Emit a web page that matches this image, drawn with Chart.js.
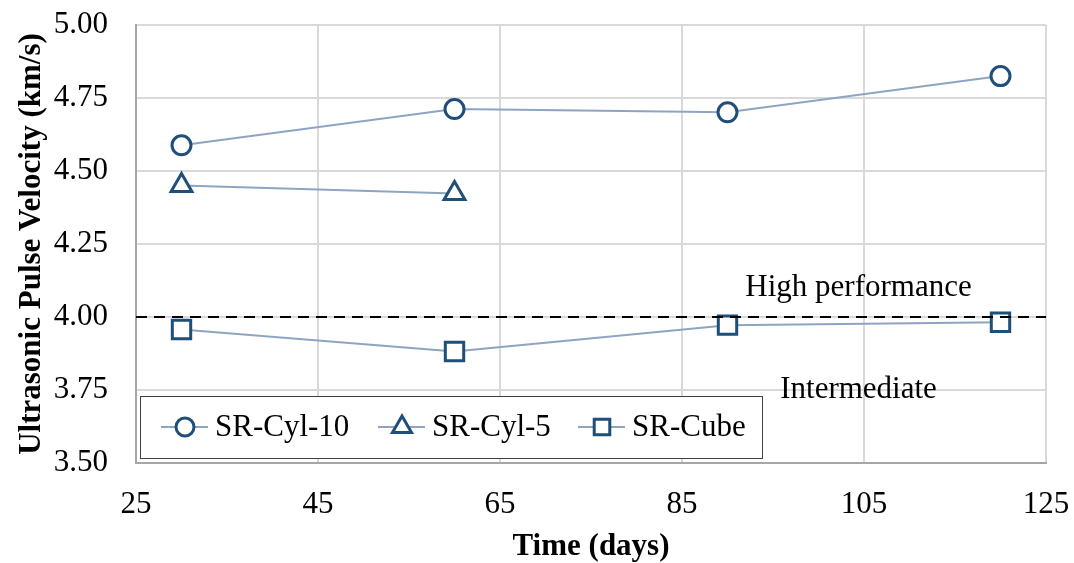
<!DOCTYPE html>
<html>
<head>
<meta charset="utf-8">
<script src="https://cdn.jsdelivr.net/npm/chart.js@4"></script>
<style>
  html, body { margin: 0; padding: 0; background: #fff; }
  #wrap { width: 1074px; height: 563px; }
</style>
</head>
<body>
<div id="wrap"><canvas id="chart" width="1074" height="563"></canvas></div>
<script>
// data
var days = [30, 60, 90, 120];
var cyl10 = [4.588, 4.712, 4.701, 4.825];
var cyl5Days = [30, 60];
var cyl5 = [4.45, 4.423];
var cube = [3.957, 3.882, 3.972, 3.982];
var limitDays = [25, 125];
var limitValue = [4.0, 4.0];
var xTicks = [25, 45, 65, 85, 105, 125];
var yTicks = [3.50, 3.75, 4.00, 4.25, 4.50, 4.75, 5.00];

var lineCol = '#8ea5c2';
var markCol = '#1f4e79';
var serif = "'Liberation Serif', 'DejaVu Serif', serif";
var fs = 31;

function pts(xs, ys) {
    return xs.map(function (x, i) { return { x: x, y: ys[i] }; });
}

function series(label, xs, ys, style, r) {
    return {
        label: label,
        data: pts(xs, ys),
        showLine: true,
        borderColor: lineCol,
        borderWidth: 2,
        pointStyle: style,
        pointRadius: r,
        pointBorderColor: markCol,
        pointBackgroundColor: '#fff',
        pointBorderWidth: 3
    };
}

var notes = [
    { text: 'High performance', x: 104.4, y: 4.10 },
    { text: 'Intermediate', x: 104.4, y: 3.75 }
];

var extras = {
    id: 'extras',
    afterDatasetsDraw: function (chart) {
        var ctx = chart.ctx, xs = chart.scales.x, ys = chart.scales.y;
        ctx.save();
        ctx.fillStyle = '#000';
        ctx.font = fs + 'px ' + serif;
        ctx.textAlign = 'center';
        ctx.textBaseline = 'middle';
        notes.forEach(function (n) {
            ctx.fillText(n.text, xs.getPixelForValue(n.x), ys.getPixelForValue(n.y));
        });

        // legend box inside the plot area
        var bx = 140, by = 396, bw = 622, bh = 62;
        ctx.fillStyle = '#fff';
        ctx.fillRect(bx, by, bw, bh);
        ctx.strokeStyle = '#404040';
        ctx.lineWidth = 1;
        ctx.strokeRect(bx + 0.5, by + 0.5, bw, bh);
        var items = [
            { label: 'SR-Cyl-10', style: 'circle', r: 9, x: 161 },
            { label: 'SR-Cyl-5', style: 'triangle', r: 11, x: 378 },
            { label: 'SR-Cube', style: 'rect', r: 11, x: 578 }
        ];
        var cy = by + bh / 2;
        ctx.font = fs + 'px ' + serif;
        ctx.textAlign = 'left';
        items.forEach(function (it) {
            ctx.strokeStyle = lineCol;
            ctx.lineWidth = 2;
            ctx.beginPath();
            ctx.moveTo(it.x, cy);
            ctx.lineTo(it.x + 47, cy);
            ctx.stroke();
            ctx.fillStyle = '#fff';
            ctx.strokeStyle = markCol;
            ctx.lineWidth = 3;
            Chart.helpers.drawPoint(ctx, { pointStyle: it.style, radius: it.r, rotation: 0, borderWidth: 3 }, it.x + 24, cy);
            ctx.fillStyle = '#000';
            ctx.fillText(it.label, it.x + 54, cy + 1);
        });
        ctx.restore();
    }
};

new Chart('chart', {
    type: 'scatter',
    data: {
        datasets: [
            {
                label: 'limit',
                data: pts(limitDays, limitValue),
                showLine: true,
                borderColor: '#000',
                borderWidth: 2.2,
                borderDash: [11, 7],
                pointRadius: 0
            },
            series('SR-Cyl-10', days, cyl10, 'circle', 9.5),
            series('SR-Cyl-5', cyl5Days, cyl5, 'triangle', 12),
            series('SR-Cube', days, cube, 'rect', 13)
        ]
    },
    options: {
        responsive: false,
        animation: false,
        layout: { padding: { left: 0, right: 28, top: 25, bottom: 0 } },
        plugins: {
            legend: { display: false },
            tooltip: { enabled: false }
        },
        scales: {
            x: {
                type: 'linear',
                min: 25, max: 125,
                afterBuildTicks: function (s) { s.ticks = xTicks.map(function (v) { return { value: v }; }); },
                afterFit: function (s) { s.height = 100; s.paddingLeft = 0; s.paddingRight = 0; },
                grid: { color: '#d9d9d9', lineWidth: 2, drawTicks: false },
                border: { color: '#a6a6a6', width: 2 },
                ticks: { color: '#000', font: { family: serif, size: fs }, padding: 23 },
                title: { display: true, text: 'Time (days)', color: '#000', font: { family: serif, size: fs, weight: 'bold' }, padding: { top: 0, bottom: -3 } }
            },
            y: {
                min: 3.5, max: 5.0,
                afterBuildTicks: function (s) { s.ticks = yTicks.map(function (v) { return { value: v }; }); },
                afterFit: function (s) { s.width = 136; s.paddingTop = 0; s.paddingBottom = 0; },
                grid: { color: '#d9d9d9', lineWidth: 2, drawTicks: false },
                border: { color: '#a6a6a6', width: 2 },
                ticks: {
                    color: '#000', font: { family: serif, size: fs }, padding: 28,
                    callback: function (v) { return Number(v).toFixed(2); }
                },
                title: { display: true, text: 'Ultrasonic Pulse Velocity (km/s)', color: '#000', font: { family: serif, size: fs, weight: 'bold' }, padding: { top: 13, bottom: 0 } }
            }
        }
    },
    plugins: [extras]
});
</script>
</body>
</html>
